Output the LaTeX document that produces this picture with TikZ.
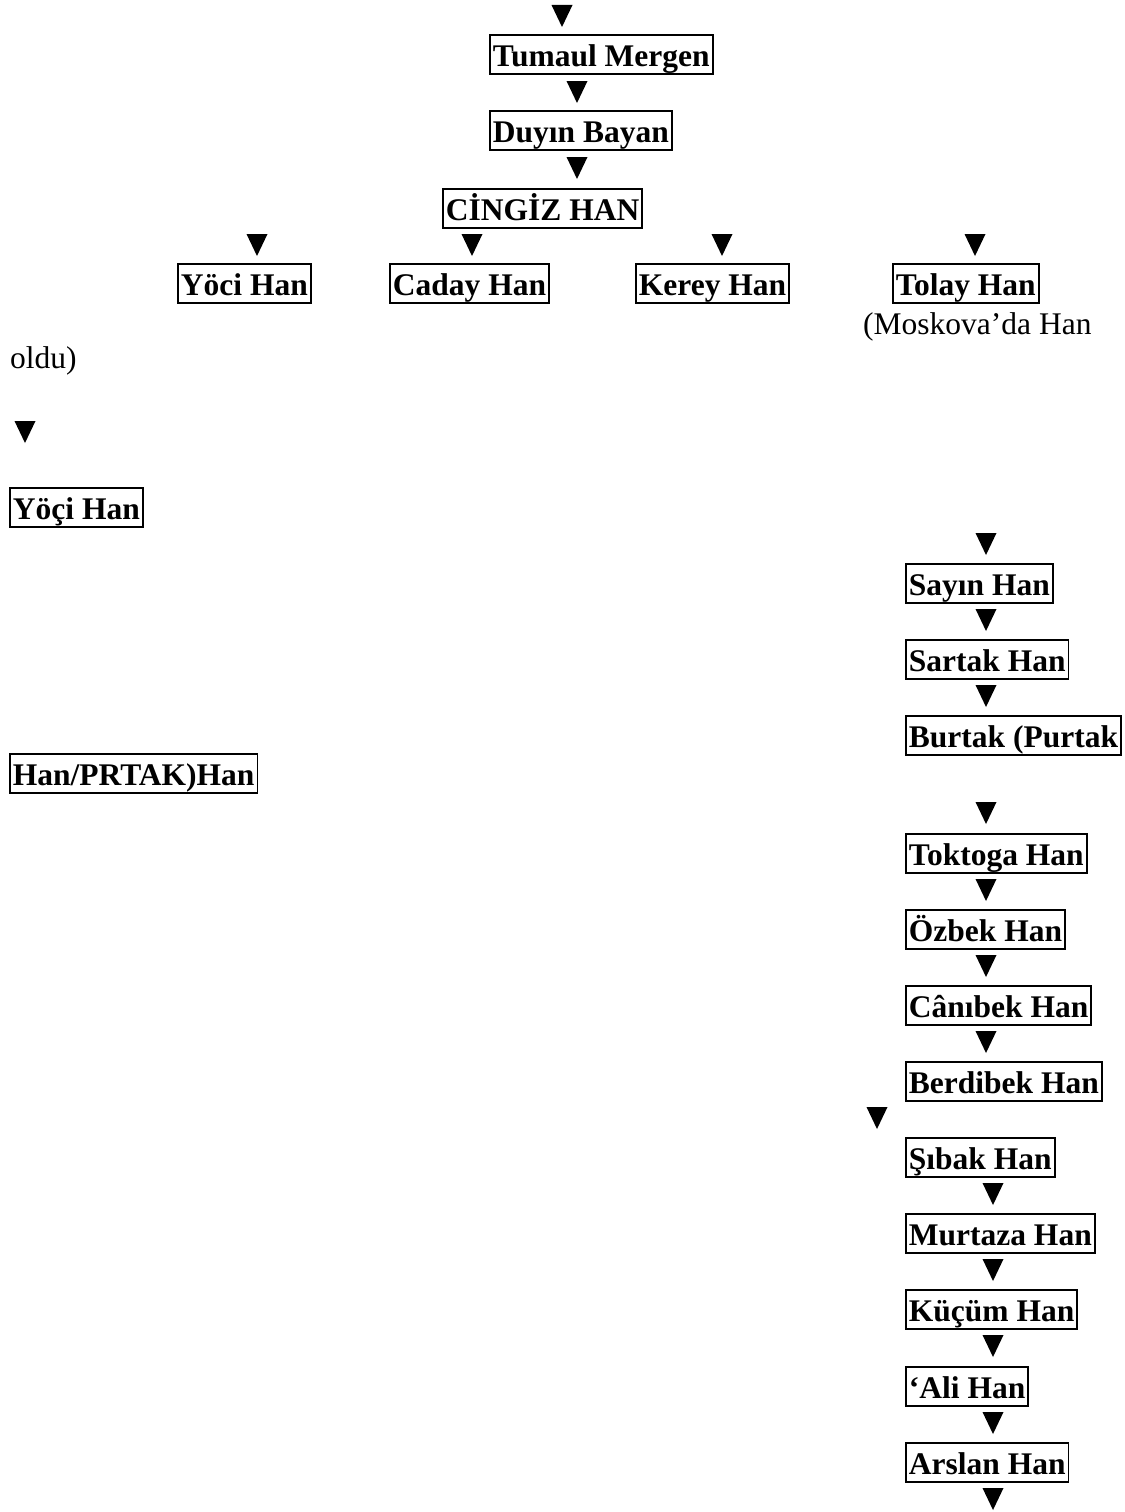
\documentclass[tikz,border=0pt]{standalone}
\usepackage{fontspec}
\setmainfont{Liberation Serif}
\begin{document}
\begin{tikzpicture}[x=1pt,y=-1pt,
  hbox/.style={draw, line width=1.8pt, anchor=north west, inner xsep=3pt, inner ysep=1pt,
    text height=31pt, text depth=6pt, font=\fontsize{31.5}{38}\selectfont\bfseries},
  plain/.style={anchor=base west, inner sep=0pt, font=\fontsize{31.5}{38}\selectfont},
  tri/.pic={\fill (-10.5,0) -- (10.5,0) -- (0,22) -- cycle;}]
\useasboundingbox (0,0) rectangle (1124,1512);
% top chain
\pic (t0) at (562,5) {tri};
\node[hbox] (tumaul) at (489,34) {Tumaul Mergen};
\pic (t1) at (577,81) {tri};
\node[hbox] (duyin) at (489,110) {Duyın Bayan};
\pic (t2) at (577,157) {tri};
\node[hbox] (cingiz) at (442,188) {CİNGİZ HAN};
% sons
\pic (t3) at (257,234) {tri};
\pic (t4) at (472,234) {tri};
\pic (t5) at (722,234) {tri};
\pic (t6) at (975,234) {tri};
\node[hbox] (yoci) at (177,263) {Yöci Han};
\node[hbox] (caday) at (389,263) {Caday Han};
\node[hbox] (kerey) at (635,263) {Kerey Han};
\node[hbox] (tolay) at (892,263) {Tolay Han};
\node[plain] (moskova) at (863,334) {(Moskova’da Han};
\node[plain] (oldu) at (10,368) {oldu)};
\pic (t7) at (25,421) {tri};
\node[hbox] (yocii) at (9,487) {Yöçi Han};
% right column
\pic (t8) at (986,533) {tri};
\node[hbox] (sayin) at (905,563) {Sayın Han};
\pic (t9) at (986,609) {tri};
\node[hbox] (sartak) at (905,639) {Sartak Han};
\pic (t10) at (986,685) {tri};
\node[hbox] (burtak) at (905,715) {Burtak (Purtak};
\node[hbox] (prtak) at (9,753) {Han/PRTAK)Han};
\pic (t11) at (986,802) {tri};
\node[hbox] (toktoga) at (905,833) {Toktoga Han};
\pic (t12) at (986,879) {tri};
\node[hbox] (ozbek) at (905,909) {Özbek Han};
\pic (t13) at (986,955) {tri};
\node[hbox] (canibek) at (905,985) {Cânıbek Han};
\pic (t14) at (986,1031) {tri};
\node[hbox] (berdibek) at (905,1061) {Berdibek Han};
\pic (t15) at (877,1107) {tri};
\node[hbox] (sibak) at (905,1137) {Şıbak Han};
\pic (t16) at (993,1183) {tri};
\node[hbox] (murtaza) at (905,1213) {Murtaza Han};
\pic (t17) at (993,1259) {tri};
\node[hbox] (kucum) at (905,1289) {Küçüm Han};
\pic (t18) at (993,1335) {tri};
\node[hbox] (ali) at (905,1366) {‘Ali Han};
\pic (t19) at (993,1412) {tri};
\node[hbox] (arslan) at (905,1442) {Arslan Han};
\pic (t20) at (993,1488) {tri};
\end{tikzpicture}
\end{document}
